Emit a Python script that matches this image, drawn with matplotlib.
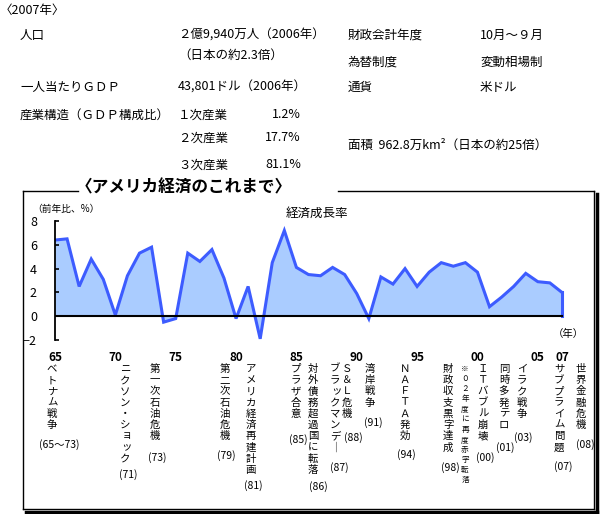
import matplotlib
matplotlib.use('Agg')
import matplotlib.pyplot as plt
from matplotlib.lines import Line2D

plt.rcParams['font.family'] = ['Noto Sans CJK JP', 'DejaVu Sans']

# --- data ---
years = list(range(1965, 2008))
growth = [6.4, 6.5, 2.5, 4.8, 3.1, 0.1, 3.4, 5.3, 5.8, -0.5,
          -0.2, 5.3, 4.6, 5.6, 3.2, -0.2, 2.5, -1.9, 4.5, 7.2,
          4.1, 3.5, 3.4, 4.1, 3.5, 1.9, -0.2, 3.3, 2.7, 4.0,
          2.5, 3.7, 4.5, 4.2, 4.5, 3.7, 0.8, 1.6, 2.5, 3.6,
          2.9, 2.8, 2.0]
tick_years = [1965, 1970, 1975, 1980, 1985, 1990, 1995, 2000, 2005, 2007]
tick_labels = ['65', '70', '75', '80', '85', '90', '95', '00', '05', '07']

sectors = ['１次産業', '２次産業', '３次産業']
shares = [1.2, 17.7, 81.1]

left_items = ['人口', '一人当たりＧＤＰ', '産業構造（ＧＤＰ構成比）']
left_values = ['２億9,940万人（2006年）', '43,801ドル（2006年）']
pop_note = '（日本の約2.3倍）'
right_items = ['財政会計年度', '為替制度', '通貨']
right_values = ['10月～９月', '変動相場制', '米ドル']
area_text = '面積  962.8万km²（日本の約25倍）'

events = ['ベトナム戦争', 'ニクソン・ショック', '第一次石油危機', '第二次石油危機',
          'アメリカ経済再建計画', 'プラザ合意', '対外債務超過国に転落', 'ブラックマンデー',
          'Ｓ＆Ｌ危機', '湾岸戦争', 'ＮＡＦＴＡ発効', '財政収支黒字達成',
          'ＩＴバブル崩壊', '同時多発テロ', 'イラク戦争', 'サブプライム問題', '世界金融危機']
event_years = ['(65～73)', '(71)', '(73)', '(79)', '(81)', '(85)', '(86)', '(87)',
               '(88)', '(91)', '(94)', '(98)', '(00)', '(01)', '(03)', '(07)', '(08)']
note_text = '※０２年度に再度赤字転落'

# layout (pixel positions in the 600x514 image)
event_x = [52, 125, 155, 225, 251, 296, 313, 335, 347, 370, 405, 448, 483, 504, 522, 559, 581]
event_label_pos = [(59, 445), (128, 475), (157, 458), (226, 456), (253, 486), (298, 440),
                   (318, 487), (339, 468), (353, 438), (373, 423), (406, 455), (450, 468),
                   (485, 458), (505, 448), (523, 438), (563, 467), (585, 445)]

W, H = 600, 514
fig = plt.figure(figsize=(6, 5.14), dpi=100)


def fx(x):
    return x / W


def fy(y):
    return 1 - y / H


def put(x, y, s, **kw):
    kw.setdefault('fontsize', 9)
    kw.setdefault('va', 'center')
    fig.text(fx(x), fy(y), s, **kw)


small_kana = 'ッョャュァィゥェォ'


def vtext(s, x, y0, step, size):
    for i, ch in enumerate(s):
        dx, dy = 0, 0
        if ch in small_kana:
            dx, dy = 1.5, -1.5
        if ch == 'ー':
            ch = '｜'
        put(x + dx, y0 + i * step + dy, ch, ha='center', fontsize=size)


# --- header table ---
put(0, 10, '〈2007年〉', ha='left', fontsize=9)
put(20, 35, left_items[0])
put(178, 35, left_values[0])
put(178, 55, pop_note)
put(20, 87, left_items[1])
put(178, 87, left_values[1])
put(20, 115, left_items[2])
for sec, val, y in zip(sectors, shares, [115, 138, 165]):
    put(178, y, sec)
    put(301, y, f'{val:.1f}%', ha='right')
for item, val, y in zip(right_items, right_values, [35, 62, 87]):
    put(348, y, item)
    put(480, y, val)
put(348, 145, area_text)

# --- frame with shadow and title ---
frame = [([23, 78], [191, 191]), ([338, 594], [191, 191]),
         ([23, 23], [191, 509]), ([23, 594], [509, 509]), ([594, 594], [191, 509])]
for xs, ys in frame:
    fig.add_artist(Line2D([fx(v) for v in xs], [fy(v) for v in ys], color='black', lw=1))
fig.add_artist(Line2D([fx(596.5), fx(596.5)], [fy(194), fy(512)], color='black', lw=2.5))
fig.add_artist(Line2D([fx(26), fx(596.5)], [fy(511.5), fy(511.5)], color='black', lw=2.5))
put(184, 187, '〈アメリカ経済のこれまで〉', ha='center', fontsize=12, fontweight='bold')

# --- chart ---
ax = fig.add_axes([fx(55), fy(340), (580 - 55) / W, (340 - 221) / H])
ax.fill_between(years, growth, 0, color='#aaccff', lw=0)
ax.plot(years, growth, color='#3d5cff', lw=2.2, solid_joinstyle='miter')
ax.plot([years[-1], years[-1]], [growth[-1], 0], color='#3d5cff', lw=2.2)
ax.plot([1964.7, years[-1]], [0, 0], color='black', lw=1.5)
ax.set_ylim(-2, 8)
ax.set_xlim(1965, 1965 + (580 - 55) / 12.07)
for side in ['top', 'right', 'bottom']:
    ax.spines[side].set_visible(False)
ax.spines['left'].set_linewidth(1.3)
ax.set_yticks([-2, 0, 2, 4, 6, 8])
ax.tick_params(axis='y', direction='in', length=3, width=1.2, pad=13, labelsize=9)
ax.set_xticks(tick_years)
ax.set_xticklabels(tick_labels, fontweight='bold')
ax.tick_params(axis='x', length=0, pad=8, labelsize=8.5)
ax.patch.set_alpha(0)

put(32, 209, '（前年比、%）', ha='left', fontsize=7)
put(317, 213, '経済成長率', ha='center', fontsize=9)
put(568, 334, '（年）', ha='center', fontsize=7.5)

# --- vertical event annotations ---
for ev, x in zip(events, event_x):
    vtext(ev, x, 369, 11.2, 7.5)
vtext(note_text, 465, 369, 10.1, 5.5)
for lab, (x, y) in zip(event_years, event_label_pos):
    put(x, y, lab, ha='center', fontsize=7.5)

fig.savefig('out.png', dpi=100)
